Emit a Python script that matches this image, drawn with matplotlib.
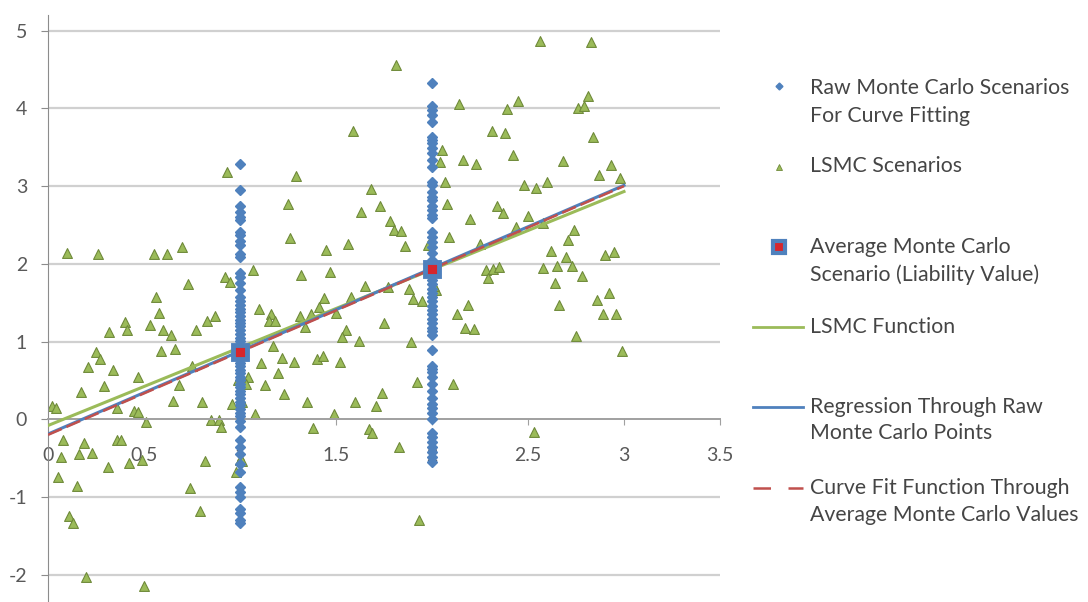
"""LSMC vs raw Monte Carlo curve fitting chart (Excel-style scatter)."""
import matplotlib
matplotlib.use('Agg')
import matplotlib.pyplot as plt
from matplotlib.lines import Line2D

# raw monte carlo scenarios at x = 1 and x = 2
raw_x1 = [3.29, 2.95, 2.74, 2.67, 2.60, 2.56, 2.41, 2.37, 2.30, 2.24, 2.13, 2.09, 1.88, 1.83,
          1.75, 1.66, 1.57, 1.52, 1.47, 1.42, 1.38, 1.33, 1.28, 1.24, 1.20, 1.15, 1.10, 1.05,
          1.01, 0.96, 0.92, 0.87, 0.82, 0.78, 0.73, 0.68, 0.64, 0.59, 0.55, 0.50, 0.46, 0.41,
          0.36, 0.32, 0.27, 0.22, 0.18, 0.13, 0.08, 0.04, -0.02, -0.10, -0.27, -0.36, -0.44,
          -0.57, -0.68, -0.87, -0.94, -1.00, -1.15, -1.21, -1.30, -1.33]
raw_x2 = [4.33, 4.03, 3.98, 3.91, 3.83, 3.63, 3.59, 3.55, 3.49, 3.42, 3.33, 3.24, 3.05, 3.01,
          2.92, 2.86, 2.82, 2.75, 2.69, 2.63, 2.59, 2.41, 2.34, 2.28, 2.21, 2.14, 2.05, 1.96,
          1.90, 1.85, 1.79, 1.74, 1.68, 1.62, 1.57, 1.52, 1.46, 1.41, 1.35, 1.29, 1.24, 1.18,
          1.13, 1.08, 0.89, 0.69, 0.65, 0.61, 0.54, 0.46, 0.37, 0.28, 0.20, 0.14, 0.08, 0.01,
          -0.18, -0.23, -0.29, -0.36, -0.42, -0.48, -0.55]

# LSMC scenarios (x, y)
lsmc_x = [0.10, 0.26, 0.55, 0.62, 0.70, 0.93, 0.92, 0.95, 0.73, 0.56, 0.58, 0.40, 0.41, 0.32,
          0.53, 0.60, 0.64, 0.77, 0.83, 0.87, 0.25, 0.27, 0.59, 0.66, 0.21, 0.34, 0.47, 0.17,
          0.29, 0.02, 0.04, 0.36, 0.45, 0.47, 0.51, 0.65, 0.68, 0.75, 0.80, 0.85, 0.89, 0.90,
          0.96, 0.08, 0.19, 0.36, 0.38, 0.07, 0.16, 0.23, 0.31, 0.42, 0.49, 0.82, 1.00, 0.98,
          0.05, 0.15, 0.74, 0.79, 0.11, 0.13, 0.20, 0.50, 0.99, 1.01,
          1.59, 1.29, 1.68, 1.25, 1.73, 1.63, 1.78, 1.80, 1.84, 1.86, 1.26, 1.45, 1.56, 1.98,
          1.07, 1.32, 1.47, 1.65, 1.77, 1.88, 1.90, 1.95, 1.44, 1.58, 1.41, 1.10, 1.16, 1.15,
          1.18, 1.31, 1.37, 1.50, 1.34, 1.55, 1.53, 1.75, 1.62, 1.89, 1.17, 1.22, 1.11, 1.28,
          1.40, 1.43, 1.52, 1.20, 1.04, 1.03, 1.13, 1.92, 1.23, 1.35, 1.60, 1.74, 1.71, 1.08,
          1.49, 1.38, 1.67, 1.69, 1.83, 1.93, 1.81, 1.01,
          2.02, 2.13, 2.19, 2.17, 2.22, 2.11, 2.28, 2.29, 2.32, 2.35, 2.58, 2.62, 2.65, 2.70,
          2.73, 2.78, 2.64, 2.66, 2.86, 2.92, 2.90, 2.95, 2.89, 2.96, 2.75, 2.99, 2.53, 2.56,
          2.83, 2.14, 2.39, 2.45, 2.76, 2.79, 2.81, 2.31, 2.38, 2.84, 2.05, 2.04, 2.16, 2.23,
          2.42, 2.68, 2.93, 2.87, 2.98, 2.07, 2.48, 2.54, 2.60, 2.08, 2.34, 2.37, 2.20, 2.50,
          2.09, 2.25, 2.44, 2.58, 2.74, 2.71, 2.01]
lsmc_y = [2.14, 2.12, 2.13, 2.12, 2.21, 3.18, 1.83, 1.77, 1.74, 1.57, 1.37, 1.25, 1.15, 1.12,
          1.21, 1.15, 1.09, 1.15, 1.27, 1.33, 0.87, 0.78, 0.88, 0.90, 0.67, 0.64, 0.54, 0.35,
          0.43, 0.17, 0.14, 0.15, 0.11, 0.09, -0.03, 0.24, 0.44, 0.68, 0.22, -0.01, -0.01, -0.10,
          0.20, -0.27, -0.30, -0.26, -0.27, -0.49, -0.44, -0.43, -0.61, -0.56, -0.52, -0.54, -0.52, -0.68,
          -0.74, -0.86, -0.89, -1.18, -1.24, -1.33, -2.03, -2.15, 0.50, 0.22,
          3.71, 3.13, 2.96, 2.77, 2.74, 2.67, 2.55, 2.43, 2.42, 2.23, 2.33, 2.18, 2.26, 2.24,
          1.92, 1.86, 1.89, 1.71, 1.70, 1.68, 1.55, 1.52, 1.56, 1.57, 1.44, 1.42, 1.36, 1.26,
          1.26, 1.33, 1.35, 1.37, 1.19, 1.15, 1.06, 1.24, 1.01, 0.99, 0.94, 0.79, 0.72, 0.74,
          0.78, 0.82, 0.74, 0.60, 0.54, 0.45, 0.44, 0.48, 0.32, 0.22, 0.22, 0.34, 0.17, 0.07,
          0.07, -0.11, -0.13, -0.17, -0.36, -1.30, 4.56, -0.53,
          1.66, 1.36, 1.47, 1.18, 1.16, 0.45, 1.92, 1.82, 1.93, 1.96, 1.95, 2.17, 1.97, 2.09,
          1.97, 1.84, 1.75, 1.47, 1.54, 1.62, 2.11, 2.15, 1.36, 1.36, 1.07, 0.88, -0.16, 4.86,
          4.85, 4.05, 3.99, 4.09, 4.01, 4.03, 4.16, 3.71, 3.68, 3.63, 3.47, 3.31, 3.33, 3.28,
          3.40, 3.32, 3.27, 3.14, 3.11, 3.05, 3.02, 2.98, 3.05, 2.77, 2.75, 2.65, 2.58, 2.62,
          2.34, 2.26, 2.47, 2.53, 2.43, 2.31, 1.72]

# average monte carlo scenario per x
avg_x = [1, 2]
avg_y = [0.87, 1.93]

# fitted lines, evaluated at the ends of the x range
fit_x = [0, 3]
lsmc_fn = [-0.08, 2.93]
regression_fn = [-0.19, 3.01]
curve_fit_fn = [-0.20, 3.00]

BLUE = '#4F81BD'
RED = '#C0504D'
GREEN = '#9BBB59'
GREEN_EDGE = '#6F8A3A'
TEXT = '#454545'
TICK = '#595959'

W, H = 1088, 602


def fx(px):
    return px / W


def fy(py):
    return 1 - py / H


def main():
    plt.rcParams['font.family'] = ['Lato', 'DejaVu Sans']
    fig = plt.figure(figsize=(W / 100, H / 100), dpi=100)
    ax = fig.add_axes([fx(48), 0.0, fx(720) - fx(48), 0.975])

    ax.set_xlim(0, 3.5)
    ax.set_ylim(-2.35, 5.2)

    for y in range(-2, 6):
        if y == 0:
            continue
        ax.axhline(y, color='#D0D0D0', lw=1.6, zorder=0)

    for s in ['top', 'right']:
        ax.spines[s].set_visible(False)
    ax.spines['left'].set_color('#8C8C8C')
    ax.spines['bottom'].set_color('#A0A0A0')
    ax.spines['bottom'].set_position(('data', 0))
    ax.spines['bottom'].set_linewidth(1.4)

    ax.set_yticks(range(-2, 6))
    ax.set_yticklabels([str(v) for v in range(-2, 6)])
    ax.set_xticks([0, 0.5, 1, 1.5, 2, 2.5, 3, 3.5])
    ax.set_xticklabels(['0', '0.5', '1', '1.5', '2', '2.5', '3', '3.5'])
    ax.tick_params(axis='y', length=5, color='#8C8C8C', pad=10, labelsize=14, labelcolor=TICK)
    ax.tick_params(axis='x', length=4, color='#A0A0A0', pad=16, labelsize=14, labelcolor=TICK)

    ax.scatter(lsmc_x, lsmc_y, marker='^', s=50, color=GREEN, edgecolors=GREEN_EDGE,
               linewidths=0.8, zorder=2)
    ax.plot([1] * len(raw_x1), raw_x1, 'D', ms=4.6, color=BLUE, zorder=3)
    ax.plot([2] * len(raw_x2), raw_x2, 'D', ms=4.6, color=BLUE, zorder=3)

    ax.plot(fit_x, lsmc_fn, color=GREEN, lw=2.2, zorder=4)
    ax.plot(fit_x, regression_fn, color=BLUE, lw=2.2, zorder=4)
    ax.plot(fit_x, curve_fit_fn, color=RED, lw=1.8, ls=(0, (6, 2)), zorder=5)

    ax.plot(avg_x, avg_y, 's', ms=10, mfc='#D7262C', mec=BLUE, mew=3.5, ls='none', zorder=6)

    # legend, drawn by hand to keep the Excel layout
    hx0, hx1, hm, tx = 753, 803, 779, 810
    fig.add_artist(Line2D([fx(hm)], [fy(86)], marker='D', ms=3.5, color=BLUE, ls='none'))
    fig.add_artist(Line2D([fx(hm)], [fy(167)], marker='^', ms=5, color=GREEN,
                          mec=GREEN_EDGE, mew=0.6, ls='none'))
    fig.add_artist(Line2D([fx(hm)], [fy(247)], marker='s', ms=8, mfc='#D7262C', mec=BLUE,
                          mew=3, ls='none'))
    fig.add_artist(Line2D([fx(hx0), fx(hx1)], [fy(327)] * 2, color=GREEN, lw=2))
    fig.add_artist(Line2D([fx(hx0), fx(hx1)], [fy(407)] * 2, color=BLUE, lw=2))
    fig.add_artist(Line2D([fx(hx0), fx(hx1)], [fy(488)] * 2, color=RED, lw=1.8,
                          ls=(0, (7, 7))))

    labels = [
        ('Raw Monte Carlo Scenarios', 88), ('For Curve Fitting', 116),
        ('LSMC Scenarios', 166),
        ('Average Monte Carlo', 247), ('Scenario (Liability Value)', 275),
        ('LSMC Function', 327),
        ('Regression Through Raw', 407), ('Monte Carlo Points', 433),
        ('Curve Fit Function Through', 488), ('Average Monte Carlo Values', 515),
    ]
    for text, py in labels:
        fig.text(fx(tx), fy(py), text, fontsize=15.3, color=TEXT, va='center', ha='left')

    fig.savefig('out.png', dpi=100, facecolor='white')


if __name__ == '__main__':
    main()
